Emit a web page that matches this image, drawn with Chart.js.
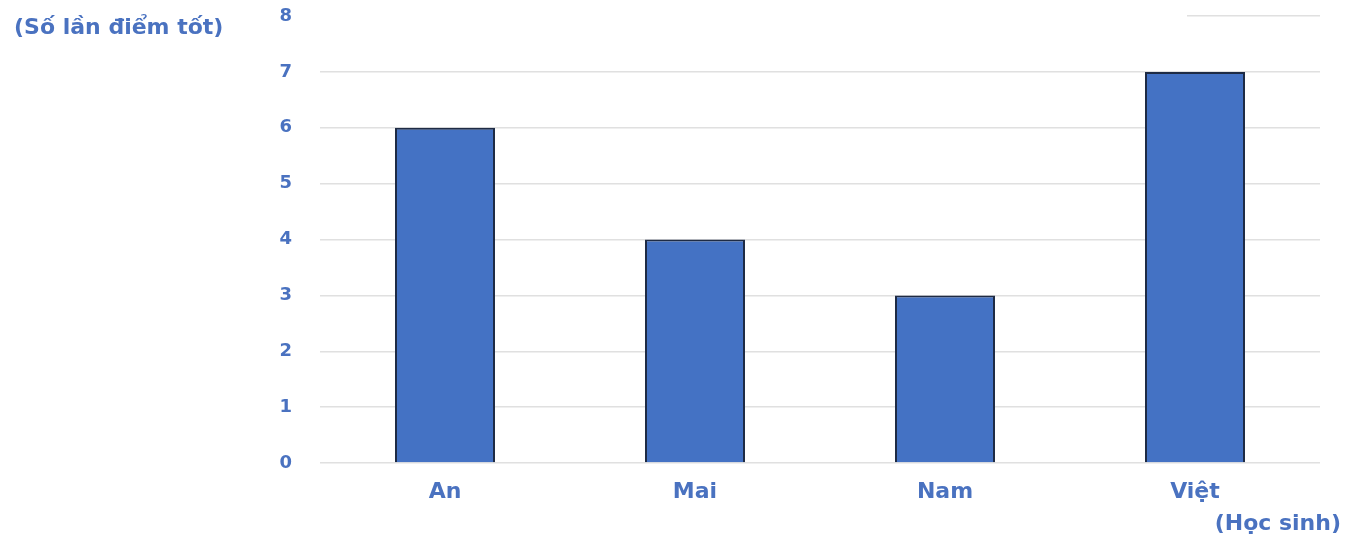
<!DOCTYPE html>
<html>
<head>
<meta charset="utf-8">
<script src="https://cdn.jsdelivr.net/npm/chart.js@4"></script>
<style>
  html, body { margin: 0; padding: 0; background: #fff; }
  #wrap { width: 1346px; height: 538px; }
</style>
</head>
<body>
<div id="wrap"><canvas id="bar-diem-tot"></canvas></div>
<script>
var students = ['An', 'Mai', 'Nam', 'Việt'];
var goodMarks = [6, 4, 3, 7];
var yTicks = [0, 1, 2, 3, 4, 5, 6, 7, 8];

var textBlue = '#4a72c0';
var font = '"DejaVu Sans", "Open Sans", sans-serif';

// axis titles drawn as plain text beside the axes
var axisTitles = {
    id: 'axisTitles',
    beforeDatasetsDraw(chart) {
        var ctx = chart.ctx;
        // top gridline is only visible at the far right in the original
        ctx.save();
        ctx.fillStyle = '#fff';
        ctx.fillRect(chart.chartArea.left - 2, chart.chartArea.top - 3, 1189 - chart.chartArea.left, 6);
        ctx.restore();
    },
    afterDraw(chart) {
        var ctx = chart.ctx;
        ctx.save();
        ctx.fillStyle = textBlue;
        ctx.font = 'bold 22px ' + font;
        ctx.textBaseline = 'middle';
        ctx.textAlign = 'left';
        ctx.fillText('(Số lần điểm tốt)', 14, 28);
        ctx.textAlign = 'right';
        ctx.fillText('(Học sinh)', 1341, 524);
        ctx.restore();
    }
};

new Chart(document.getElementById('bar-diem-tot'), {
    type: 'bar',
    data: {
        labels: students,
        datasets: [{
            label: 'Số lần điểm tốt',
            data: goodMarks,
            backgroundColor: '#4472c4',
            borderColor: '#1e2b45',
            borderWidth: { left: 2, right: 2, top: 2, bottom: 0 },
            barPercentage: 0.4,
            categoryPercentage: 1
        }]
    },
    options: {
        responsive: true,
        maintainAspectRatio: false,
        animation: false,
        layout: { padding: { top: 16, right: 26, left: 0, bottom: 0 } },
        plugins: {
            legend: { display: false },
            tooltip: { enabled: false }
        },
        scales: {
            x: {
                grid: { display: false, drawTicks: false },
                border: { display: false },
                ticks: {
                    color: textBlue,
                    font: { family: font, size: 22, weight: 'bold' },
                    padding: 16
                },
                afterFit(scale) { scale.height = 75; }
            },
            y: {
                min: 0,
                max: 8,
                afterBuildTicks(scale) {
                    scale.ticks = yTicks.map(function (v) { return { value: v }; });
                },
                grid: { color: '#e0e0e0', lineWidth: 1.5, drawTicks: false },
                border: { display: false },
                ticks: {
                    color: textBlue,
                    font: { family: font, size: 18, weight: 'bold' },
                    padding: 28
                },
                afterFit(scale) {
                    scale.width = 320;
                    scale.paddingTop = 0;
                    scale.paddingBottom = 0;
                }
            }
        }
    },
    plugins: [axisTitles]
});
</script>
</body>
</html>
